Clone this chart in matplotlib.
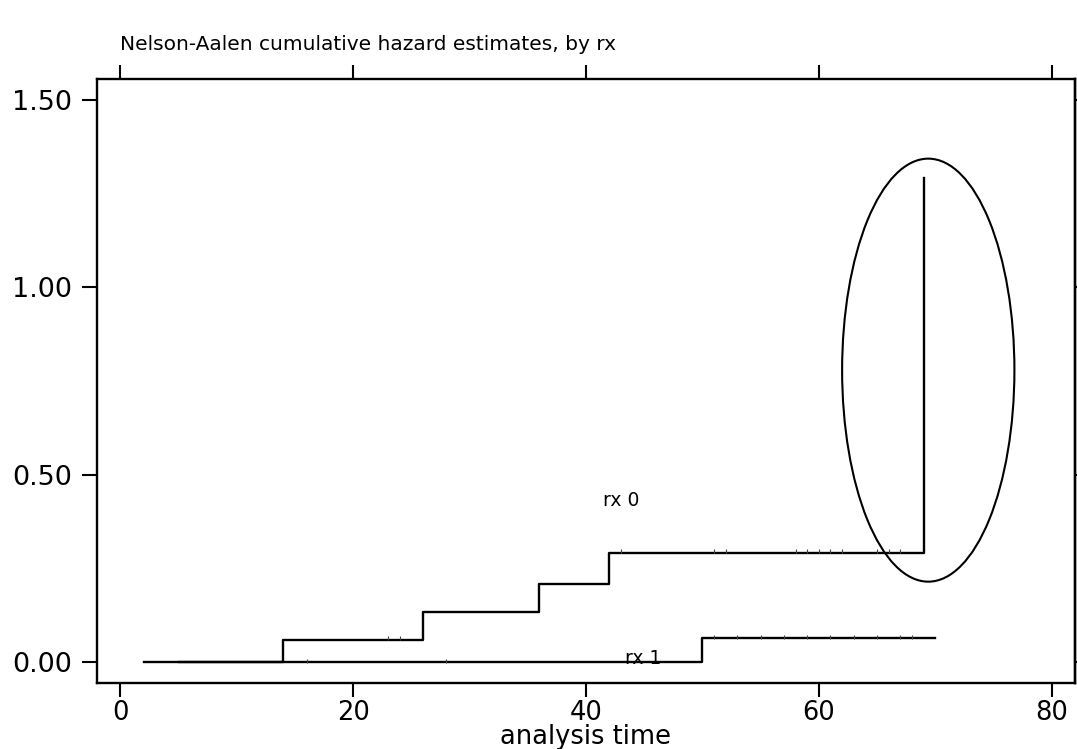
import matplotlib
matplotlib.use('Agg')
import matplotlib.pyplot as plt
from matplotlib.patches import Ellipse

# Nelson-Aalen step data
rx0_time = [5, 14, 26, 36, 42, 69]
rx0_haz = [0.0, 0.059, 0.133, 0.208, 0.292, 1.292]
rx1_time = [2, 50, 70]
rx1_haz = [0.0, 0.064, 0.064]

# censoring marks (time, level)
rx0_cens_t = [23, 24, 43, 51, 52, 58, 59, 60, 61, 62, 65, 66, 67]
rx0_cens_h = [0.059, 0.059] + [0.292] * 11
rx1_cens_t = [16, 28, 51, 53, 55, 57, 59, 61, 63, 65, 67, 68]
rx1_cens_h = [0.0, 0.0] + [0.064] * 10

xticks = [0, 20, 40, 60, 80]
yticks = [0.0, 0.5, 1.0, 1.5]
ytick_labels = ['0.00', '0.50', '1.00', '1.50']

plt.rcParams['font.family'] = ['DejaVu Sans']

fig = plt.figure(figsize=(10.77, 7.49), dpi=100)
ax = fig.add_axes([0.0901, 0.0881, 0.9080, 0.8064])

lw = 1.7
ax.step(rx0_time, rx0_haz, where='post', color='black', lw=lw)
ax.step(rx1_time, rx1_haz, where='post', color='black', lw=lw)
# tiny censoring bumps sitting just above the lines
ax.plot(rx0_cens_t, [h + 0.004 for h in rx0_cens_h], ls='none', marker='|',
        ms=3, mew=0.8, color='#444444')
ax.plot(rx1_cens_t, [h + 0.004 for h in rx1_cens_h], ls='none', marker='|',
        ms=3, mew=0.8, color='#444444')

ax.text(43.0, 0.431, 'rx 0', fontsize=13.5, ha='center', va='center')
ax.text(44.9, 0.009, 'rx 1', fontsize=13.5, ha='center', va='center')

ax.add_patch(Ellipse((69.4, 0.779), 14.8, 1.129, fill=False,
                     edgecolor='black', lw=1.5))

ax.set_xlim(-2, 82)
ax.set_ylim(-0.056, 1.556)
ax.set_xticks(xticks)
ax.set_yticks(yticks)
ax.set_yticklabels(ytick_labels)

for s in ax.spines.values():
    s.set_linewidth(1.7)

ax.tick_params(axis='x', direction='out', length=10, width=1.5,
               labelsize=18.5, pad=2, top=True)
ax.tick_params(axis='y', direction='out', length=11, width=1.5,
               labelsize=19.5, pad=7)

sec = ax.secondary_yaxis('right')
sec.set_yticks(yticks)
sec.set_yticklabels([])
sec.tick_params(direction='out', length=3, width=1.5)
sec.spines['right'].set_linewidth(1.7)

ax.set_xlabel('analysis time', fontsize=18.5, labelpad=-1)

fig.text(120 / 1077, 1 - 44 / 749,
         'Nelson-Aalen cumulative hazard estimates, by rx',
         fontsize=14.5, ha='left', va='center')

fig.savefig('out.png', dpi=100)
